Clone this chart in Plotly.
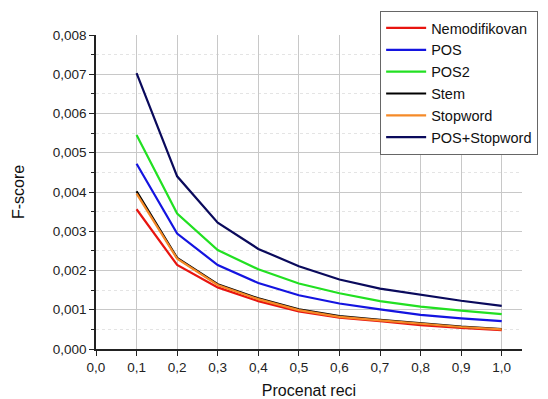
import plotly.graph_objects as go

procenat = [0.1, 0.2, 0.3, 0.4, 0.5, 0.6, 0.7, 0.8, 0.9, 1.0]
nemodifikovan = [0.00356, 0.00214, 0.00157, 0.00122, 0.00096, 0.00080, 0.00071, 0.00061, 0.00054, 0.00048]
pos = [0.00472, 0.00294, 0.00214, 0.00168, 0.00137, 0.00116, 0.00101, 0.00087, 0.00078, 0.00071]
pos2 = [0.00545, 0.00345, 0.00252, 0.00203, 0.00167, 0.00142, 0.00122, 0.00108, 0.00098, 0.00089]
stem = [0.00402, 0.00232, 0.00165, 0.00129, 0.00101, 0.00084, 0.00074, 0.00065, 0.00057, 0.00051]
stopword = [0.00396, 0.00230, 0.00163, 0.00127, 0.00099, 0.00082, 0.00073, 0.00064, 0.00056, 0.00050]
pos_stopword = [0.00703, 0.00440, 0.00322, 0.00255, 0.00211, 0.00177, 0.00154, 0.00139, 0.00123, 0.00110]

series = [
    ("Nemodifikovan", nemodifikovan, "#e8140f"),
    ("POS", pos, "#1414e0"),
    ("POS2", pos2, "#22e022"),
    ("Stem", stem, "#000000"),
    ("Stopword", stopword, "#f58a28"),
    ("POS+Stopword", pos_stopword, "#0a0a5c"),
]

FONT = "Arial, 'Liberation Sans', sans-serif"

fig = go.Figure()
for name, vals, col in series:
    fig.add_trace(go.Scatter(x=procenat, y=vals, mode="lines", name=name,
                             line=dict(color=col, width=2.2)))

# page body adds an 8px offset, so the figure is 8px smaller and margins shifted
fig.update_layout(
    width=540, height=391,
    margin=dict(l=88, r=26, t=27, b=50, autoexpand=False),
    paper_bgcolor="white", plot_bgcolor="white",
    separators=", ",
    font=dict(family=FONT, size=13.5, color="#222"),
    legend=dict(x=0.667, y=1.0764, xanchor="left", yanchor="top",
                bgcolor="white", bordercolor="#666", borderwidth=1,
                font=dict(size=14.5, family=FONT, color="#111"),
                tracegroupgap=0, itemwidth=40),
    showlegend=True,
)
fig.update_xaxes(
    range=[0, 1.05], dtick=0.1, tick0=0, tickformat=".1f",
    showline=True, linecolor="#222", linewidth=1.5,
    ticks="outside", ticklen=5, tickcolor="#222",
    showgrid=True, gridcolor="#c8c8c8", gridwidth=1,
    zeroline=False, automargin=False,
    title=dict(text="Procenat reci", font=dict(size=16, family=FONT, color="#111"), standoff=12),
)
fig.update_yaxes(
    range=[0, 0.008], dtick=0.001, tick0=0, tickformat=".3f",
    showline=True, linecolor="#222", linewidth=1.5,
    ticks="outside", ticklen=5, tickcolor="#222",
    showgrid=True, gridcolor="#c8c8c8", gridwidth=1,
    minor=dict(dtick=0.0005, ticks="outside", ticklen=3, tickcolor="#222",
               showgrid=True, gridcolor="#e4e4e4", griddash="dot"),
    zeroline=False, automargin=False,
    title=dict(text="F-score", font=dict(size=16, family=FONT, color="#111"), standoff=24),
)

fig.write_html("out.html")
